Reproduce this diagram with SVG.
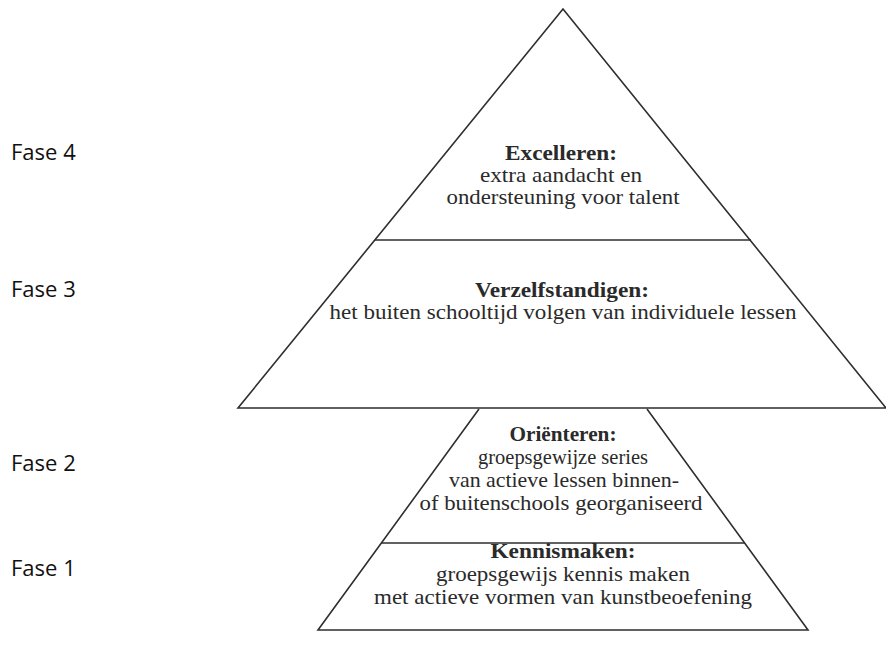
<svg xmlns="http://www.w3.org/2000/svg" width="886" height="658" viewBox="0 0 886 658">
<style>
.ln{stroke:#2e2e2e;stroke-width:1.6;fill:none;stroke-linejoin:miter}
.t{font-family:"Liberation Serif","DejaVu Serif",serif;font-size:21px;fill:#2a2a2a;text-anchor:middle}
.b{font-weight:bold}
.f{font-family:"Open Sans","Noto Sans",sans-serif;font-size:22px;fill:#111}
</style>
<rect width="886" height="658" fill="#fff"/>
<g id="connectors">
<path class="ln" d="M563,9 L238,408 L886,408 Z"/>
<line class="ln" x1="375" y1="240" x2="751" y2="240"/>
<path class="ln" d="M479,409 L318,630 L808,630 L647,409"/>
<line class="ln" x1="381" y1="543" x2="745" y2="543"/>
</g>
<g id="fase4"><text class="t b" x="561" y="160" textLength="112" lengthAdjust="spacingAndGlyphs">Excelleren:</text><text class="t" x="561" y="182" textLength="162" lengthAdjust="spacingAndGlyphs">extra aandacht en</text><text class="t" x="563" y="204" textLength="233" lengthAdjust="spacingAndGlyphs">ondersteuning voor talent</text></g>
<g id="fase3"><text class="t b" x="562" y="297" textLength="174" lengthAdjust="spacingAndGlyphs">Verzelfstandigen:</text><text class="t" x="563" y="319" textLength="467" lengthAdjust="spacingAndGlyphs">het buiten schooltijd volgen van individuele lessen</text></g>
<g id="fase2"><text class="t b" x="563" y="441" textLength="107" lengthAdjust="spacingAndGlyphs">Oriënteren:</text><text class="t" x="563" y="464" textLength="170" lengthAdjust="spacingAndGlyphs">groepsgewijze series</text><text class="t" x="564" y="487" textLength="230" lengthAdjust="spacingAndGlyphs">van actieve lessen binnen-</text><text class="t" x="561" y="510" textLength="283" lengthAdjust="spacingAndGlyphs">of buitenschools georganiseerd</text></g>
<g id="fase1"><text class="t b" x="563" y="558" textLength="145" lengthAdjust="spacingAndGlyphs">Kennismaken:</text><text class="t" x="563" y="581" textLength="254" lengthAdjust="spacingAndGlyphs">groepsgewijs kennis maken</text><text class="t" x="563" y="604" textLength="378" lengthAdjust="spacingAndGlyphs">met actieve vormen van kunstbeoefening</text></g>
<g id="labels">
<text class="f" x="11" y="160">Fase 4</text>
<text class="f" x="11" y="297">Fase 3</text>
<text class="f" x="11" y="471">Fase 2</text>
<text class="f" x="11" y="576">Fase 1</text>
</g>
</svg>
